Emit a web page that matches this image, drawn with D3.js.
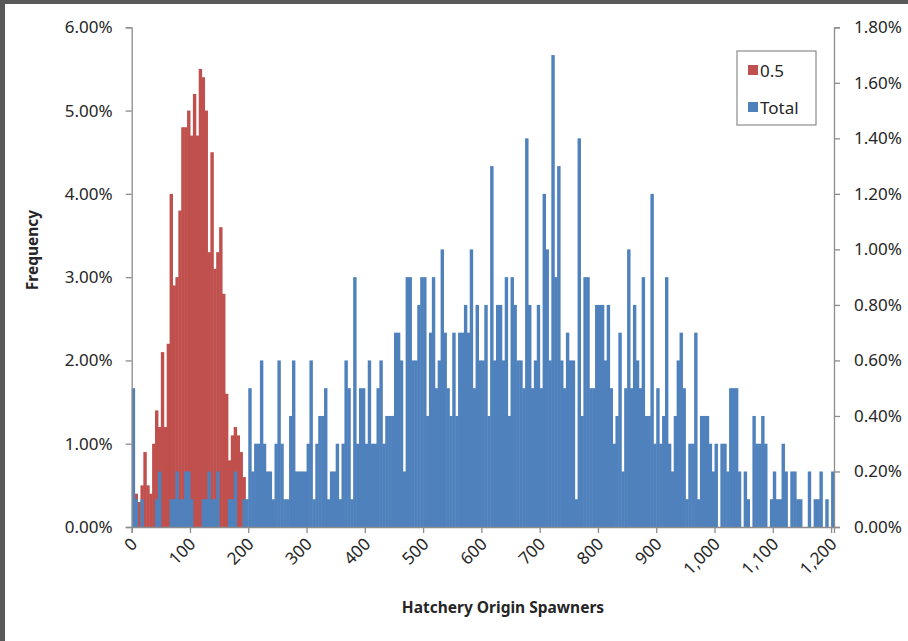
<!DOCTYPE html>
<html>
<head>
  <meta charset="utf-8">
  <script src="https://d3js.org/d3.v7.min.js"></script>
  <style>
    body { margin: 0; background: #595959; }
    svg { display: block; }
    text { font-family: "Noto Sans", "Open Sans", sans-serif; fill: #262626; }
  </style>
</head>
<body>
<script>
  // bin width of the histogram (Hatchery Origin Spawners)
  var binWidth = 5;

  // frequency in percent per bin, series "0.5" (left axis)
  var redPct = [
    0, 0.4, 0.3, 0.5, 0.9, 0.5, 0.4, 1.0, 1.4, 1.2, 2.1, 1.2, 2.2, 4.0, 2.9, 3.0, 3.8, 4.8, 4.8, 5.0,
    4.7, 5.2, 4.7, 5.5, 5.4, 5.0, 3.3, 4.5, 3.1, 3.3, 3.6, 2.8, 1.6, 0.8, 1.1, 1.2, 1.1, 0.9, 0.6, 0
  ];

  // frequency in percent per bin, series "Total" (right axis)
  var bluePct = [
    0.5, 0.1, 0, 0.1, 0, 0, 0, 0, 0.1, 0.2, 0, 0, 0, 0.1, 0.1, 0.2, 0.1, 0.1, 0.2, 0.2,
    0.1, 0, 0, 0, 0.1, 0.1, 0.2, 0.1, 0.1, 0.2, 0, 0, 0, 0.1, 0.1, 0.2, 0, 0, 0.1, 0.1,
    0.5, 0.2, 0.3, 0.3, 0.6, 0.3, 0.2, 0.2, 0.1, 0.3, 0.6, 0.3, 0.1, 0.1, 0.4, 0.6, 0.2, 0.2, 0.2, 0.2,
    0.3, 0.6, 0.1, 0.3, 0.4, 0.4, 0.5, 0.1, 0.2, 0.2, 0.3, 0.1, 0.3, 0.6, 0.5, 0.1, 0.9, 0.3, 0.5, 0.5,
    0.3, 0.6, 0.3, 0.3, 0.5, 0.6, 0.3, 0.4, 0.4, 0.4, 0.7, 0.7, 0.6, 0.2, 0.9, 0.9, 0.6, 0.6, 0.8, 0.9,
    0.9, 0.4, 0.7, 0.9, 0.5, 0.6, 1.0, 0.7, 0.5, 0.4, 0.7, 0.4, 0.7, 0.7, 0.8, 0.7, 1.0, 0.5, 0.8, 0.6,
    0.6, 0.8, 0.4, 1.3, 0.6, 0.8, 0.8, 0.6, 0.9, 0.4, 0.9, 0.8, 0.6, 0.6, 0.5, 1.4, 0.8, 0.5, 0.6, 0.8,
    0.5, 1.2, 1.0, 0.6, 1.7, 0.9, 1.3, 0.6, 0.5, 0.7, 0.6, 0.6, 0.1, 1.4, 0.4, 0.9, 0.9, 0.5, 0.5, 0.8,
    0.8, 0.8, 0.6, 0.8, 0.5, 0.3, 0.4, 0.7, 0.2, 0.5, 1.0, 0.5, 0.8, 0.6, 0.5, 0.9, 0.4, 0.4, 1.2, 0.3,
    0.5, 0.3, 0.4, 0.9, 0.3, 0.2, 0.4, 0.6, 0.7, 0.5, 0.1, 0.3, 0.3, 0.7, 0.1, 0.4, 0.4, 0.4, 0.3, 0.2,
    0.3, 0, 0.3, 0.3, 0.2, 0.5, 0.5, 0.5, 0.2, 0, 0.2, 0.1, 0, 0.4, 0.3, 0.3, 0.4, 0.3, 0, 0.1,
    0.2, 0.1, 0.1, 0.3, 0.2, 0, 0.2, 0.2, 0.1, 0.1, 0, 0, 0.2, 0, 0.1, 0.1, 0.2, 0, 0.1, 0, 0.2
  ];

  var xTicks = [0, 100, 200, 300, 400, 500, 600, 700, 800, 900, 1000, 1100, 1200];
  var leftTicks = [0, 1, 2, 3, 4, 5, 6];
  var rightTicks = [0, 0.2, 0.4, 0.6, 0.8, 1.0, 1.2, 1.4, 1.6, 1.8];
  var seriesNames = ["0.5", "Total"];
  var seriesColors = ["#C0504D", "#4F81BD"];

  var W = 908, H = 641;
  var plot = { left: 131.7, right: 834, top: 27.3, bottom: 527 };

  var svg = d3.select("body").append("svg")
      .attr("width", W)
      .attr("height", H);

  // dark frame at top and left, white chart area
  svg.append("rect").attr("width", W).attr("height", H).attr("fill", "#595959");
  svg.append("rect").attr("x", 5).attr("y", 4).attr("width", W - 5).attr("height", H - 4).attr("fill", "#fff");

  var x = d3.scaleLinear().domain([0, bluePct.length * binWidth]).range([plot.left, plot.right]);
  var yL = d3.scaleLinear().domain([0, 6]).range([plot.bottom, plot.top]);
  var yR = d3.scaleLinear().domain([0, 1.8]).range([plot.bottom, plot.top]);

  var redData = redPct.map(function (v, i) { return { x0: i * binWidth, v: v }; });
  var blueData = bluePct.map(function (v, i) { return { x0: i * binWidth, v: v }; });

  // small overlap so neighbouring bars don't show hairline seams
  var overlap = 0.5;

  // red series (primary axis) behind
  svg.append("g").selectAll("rect")
    .data(redData.filter(function (d) { return d.v > 0; }))
    .enter().append("rect")
      .attr("x", function (d) { return x(d.x0); })
      .attr("width", function (d) { return x(d.x0 + binWidth) - x(d.x0) + overlap; })
      .attr("y", function (d) { return yL(d.v); })
      .attr("height", function (d) { return yL(0) - yL(d.v); })
      .attr("fill", seriesColors[0]);

  // blue series (secondary axis) in front
  svg.append("g").selectAll("rect")
    .data(blueData.filter(function (d) { return d.v > 0; }))
    .enter().append("rect")
      .attr("x", function (d) { return x(d.x0); })
      .attr("width", function (d) { return x(d.x0 + binWidth) - x(d.x0) + overlap; })
      .attr("y", function (d) { return yR(d.v); })
      .attr("height", function (d) { return yR(0) - yR(d.v); })
      .attr("fill", seriesColors[1]);

  var axisColor = "#8c8c8c";

  // left axis
  var gl = svg.append("g").attr("transform", "translate(" + plot.left + ",0)")
    .call(d3.axisLeft(yL).tickValues(leftTicks).tickSize(6).tickPadding(13)
      .tickFormat(function (d) { return d.toFixed(2) + "%"; }));
  // right axis
  var gr = svg.append("g").attr("transform", "translate(" + plot.right + ",0)")
    .call(d3.axisRight(yR).tickValues(rightTicks).tickSize(6).tickPadding(14)
      .tickFormat(function (d) { return d.toFixed(2) + "%"; }));
  // bottom axis
  var gx = svg.append("g").attr("transform", "translate(0," + plot.bottom + ")")
    .call(d3.axisBottom(x).tickValues(xTicks).tickSize(6).tickFormat(d3.format(",")));

  [gl, gr, gx].forEach(function (g) {
    g.select(".domain").attr("stroke", axisColor).attr("stroke-width", 1.3);
    g.selectAll(".tick line").attr("stroke", axisColor).attr("stroke-width", 1.3);
    g.selectAll("text").attr("font-size", 17).attr("fill", "#262626")
      .attr("font-family", "'Noto Sans', sans-serif");
  });

  gx.selectAll(".tick text")
    .attr("text-anchor", "end")
    .attr("dy", "0.35em")
    .attr("y", 0)
    .attr("transform", "translate(2,14) rotate(-45)");

  // axis titles
  svg.append("text")
    .attr("transform", "translate(38,250) rotate(-90)")
    .attr("text-anchor", "middle")
    .attr("font-size", 15.5)
    .attr("font-weight", "bold")
    .text("Frequency");

  svg.append("text")
    .attr("x", 503)
    .attr("y", 613)
    .attr("text-anchor", "middle")
    .attr("font-size", 15.5)
    .attr("font-weight", "bold")
    .text("Hatchery Origin Spawners");

  // legend
  var lg = svg.append("g").attr("transform", "translate(737,51)");
  lg.append("rect").attr("width", 79).attr("height", 74)
    .attr("fill", "#fff").attr("stroke", "#8c8c8c").attr("stroke-width", 1.2);
  var li = lg.selectAll("g.item").data(seriesNames).enter().append("g")
    .attr("class", "item")
    .attr("transform", function (d, i) { return "translate(11," + (14 + i * 37) + ")"; });
  li.append("rect").attr("width", 10).attr("height", 10)
    .attr("fill", function (d, i) { return seriesColors[i]; });
  li.append("text").attr("x", 12).attr("y", 11.5)
    .attr("font-size", 17)
    .text(function (d) { return d; });
</script>
</body>
</html>
